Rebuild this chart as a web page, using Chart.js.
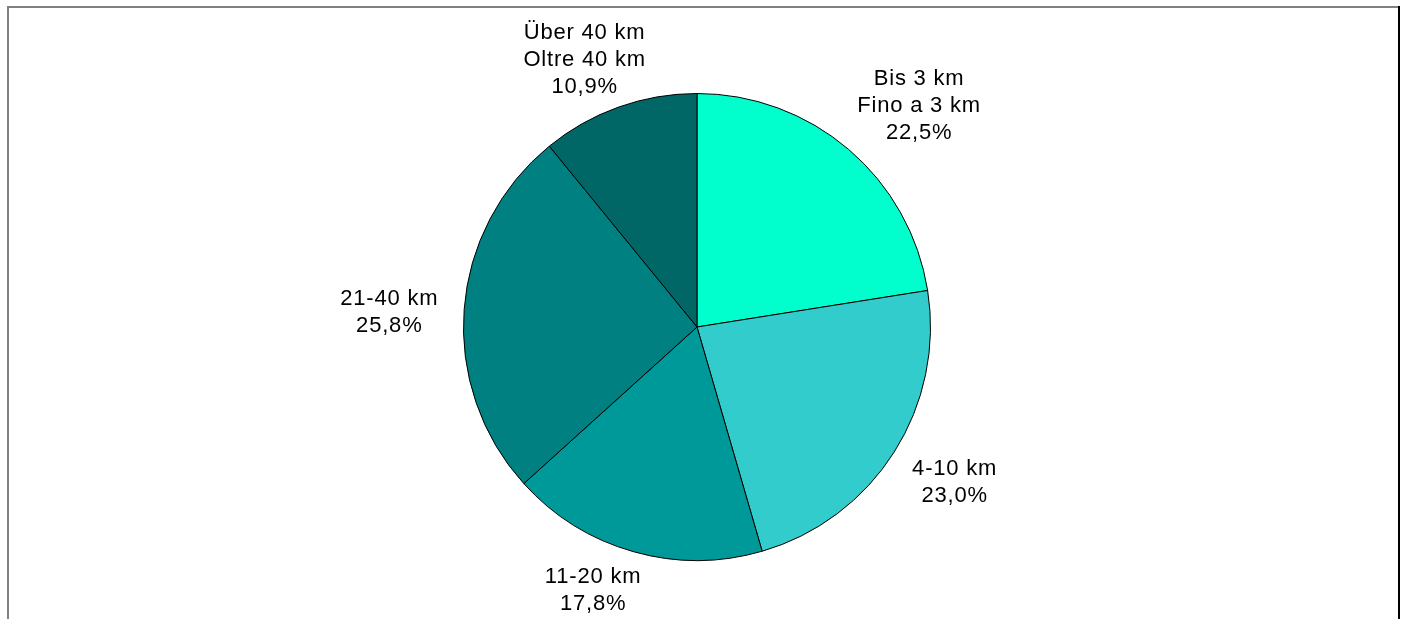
<!DOCTYPE html>
<html>
<head>
<meta charset="utf-8">
<script src="https://cdn.jsdelivr.net/npm/chart.js@4"></script>
<style>
  html, body { margin: 0; padding: 0; background: #fff; }
  #wrap { position: relative; width: 1406px; height: 619px; }
</style>
</head>
<body>
<div id="wrap"><canvas id="pieChart" width="1406" height="619"></canvas></div>
<script>
const labels = [
    ['Bis 3 km', 'Fino a 3 km'],
    ['4-10 km'],
    ['11-20 km'],
    ['21-40 km'],
    ['Über 40 km', 'Oltre 40 km']
];
const shares = [22.5, 23.0, 17.8, 25.8, 10.9];
const colors = ['#00FFCC', '#33CCCC', '#009999', '#008080', '#006666'];

const FONT = '22px "Liberation Sans", Arial, sans-serif';
const LINE_H = 27;

// frame round the chart, like the original sheet box
const framePlugin = {
    id: 'frame',
    beforeDraw(chart) {
        const ctx = chart.ctx;
        ctx.save();
        ctx.lineWidth = 2;
        ctx.strokeStyle = '#808080';
        ctx.beginPath();
        ctx.moveTo(8, 619);
        ctx.lineTo(8, 7);
        ctx.lineTo(1398, 7);
        ctx.stroke();
        ctx.strokeStyle = '#000';
        ctx.beginPath();
        ctx.moveTo(1399, 6);
        ctx.lineTo(1399, 619);
        ctx.stroke();
        ctx.restore();
    }
};

// labels outside the slices, text box pushed off the rim
// (small per-label nudges to sit where the spreadsheet put them)
const outLabels = {
    id: 'outLabels',
    afterDatasetsDraw(chart, args, opts) {
        const ctx = chart.ctx;
        const meta = chart.getDatasetMeta(0);
        const nudge = opts.nudge || [];
        ctx.save();
        ctx.font = FONT;
        ctx.letterSpacing = '0.8px';
        ctx.fillStyle = '#000';
        ctx.textAlign = 'center';
        ctx.textBaseline = 'middle';
        meta.data.forEach(function (arc, i) {
            const lines = labels[i].concat([shares[i].toFixed(1).replace('.', ',') + '%']);
            const mid = (arc.startAngle + arc.endAngle) / 2;
            const dx = Math.cos(mid), dy = Math.sin(mid);
            let w = 0;
            lines.forEach(function (l) { w = Math.max(w, ctx.measureText(l).width); });
            const h = lines.length * LINE_H - 8;
            const r = arc.outerRadius + 22;
            const n = nudge[i] || [0, 0];
            const cx = arc.x + dx * r + dx * w / 2 + n[0];
            const cy = arc.y + dy * r + dy * h / 2 + n[1];
            lines.forEach(function (l, k) {
                ctx.fillText(l, cx, cy - (lines.length - 1) * LINE_H / 2 + k * LINE_H);
            });
        });
        ctx.restore();
    }
};

new Chart(document.getElementById('pieChart').getContext('2d'), {
    type: 'pie',
    data: {
        labels: labels.map(function (l) { return l.join(' / '); }),
        datasets: [{
            data: shares,
            backgroundColor: colors,
            borderColor: '#000',
            borderWidth: 1,
            hoverOffset: 0
        }]
    },
    options: {
        responsive: false,
        animation: false,
        layout: { padding: { top: 93, bottom: 58, left: 0, right: 12 } },
        plugins: {
            legend: { display: false },
            tooltip: { enabled: false },
            outLabels: { nudge: [[16, 1], [6, 6], [-21, -4], [-4, 6], [-6, 8]] }
        }
    },
    plugins: [framePlugin, outLabels]
});
</script>
</body>
</html>
